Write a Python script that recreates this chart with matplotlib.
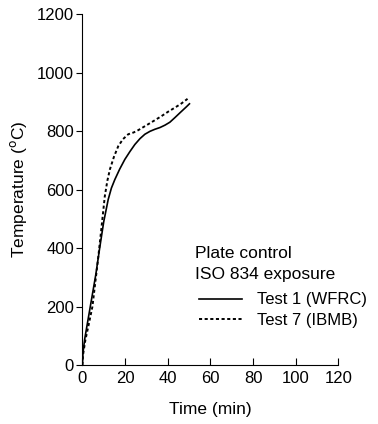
import matplotlib.pyplot as plt

plt.rcParams['font.family'] = ['Liberation Sans', 'DejaVu Sans']

# Test 1 (WFRC) - solid
t1 = [0, 0.3, 1.1, 2.4, 3.7, 5, 6.3, 8.1, 10, 12.1, 13.6, 15.2, 17.5, 19.9, 22.3,
      24.6, 27, 29.3, 31.7, 34, 36.4, 38.7, 41, 43.4, 46, 48.8, 50.2]
T1 = [0, 45, 90, 145, 200, 255, 310, 400, 490, 566, 605, 634, 670, 703, 730,
      754, 774, 789, 799, 806, 812, 820, 830, 846, 864, 883, 893]

# Test 7 (IBMB) - dotted
t7 = [0, 0.3, 1.4, 3, 4.7, 6, 7.3, 8.8, 10.5, 11.7, 12.9, 14.8, 16.8, 19,
      21.5, 24, 26.2, 28.5, 30.8, 34, 37.1, 40.2, 43.4, 46.4, 49.3]
T7 = [0, 35, 86, 140, 200, 280, 360, 460, 577, 630, 669, 712, 748, 772,
      789, 795, 803, 813, 823, 837, 851, 866, 880, 894, 910]

xticks = [0, 20, 40, 60, 80, 100, 120]
yticks = [0, 200, 400, 600, 800, 1000, 1200]

fig = plt.figure(figsize=(3.78, 4.24), dpi=100)
ax = fig.add_axes([0.218, 0.139, 0.677, 0.828])

ax.plot(t1, T1, 'k-', lw=1.2, label='Test 1 (WFRC)')
ax.plot(t7, T7, 'k--', lw=1.4, dashes=(1.6, 1.3), label='Test 7 (IBMB)')

ax.set_xlim(0, 120)
ax.set_ylim(0, 1200)
ax.set_xticks(xticks)
ax.set_yticks(yticks)
ax.spines['top'].set_visible(False)
ax.spines['right'].set_visible(False)
ax.tick_params(axis='x', direction='in', length=5, labelsize=12, pad=4)
ax.tick_params(axis='y', direction='out', length=4, labelsize=12, pad=2)
ax.set_xlabel('Time (min)', fontsize=12.5, labelpad=12)
ax.set_ylabel('Temperature ($^{\\rm o}$C)', fontsize=12.5, labelpad=6)

ax.text(0.44, 0.34, 'Plate control\nISO 834 exposure', transform=ax.transAxes,
        fontsize=12.5, va='top', ha='left', linespacing=1.5)
ax.legend(loc='upper left', bbox_to_anchor=(0.41, 0.24), frameon=False,
          fontsize=12, handlelength=2.6, handletextpad=0.9, labelspacing=0.35,
          borderaxespad=0.3)

fig.savefig('out.png', dpi=100)
